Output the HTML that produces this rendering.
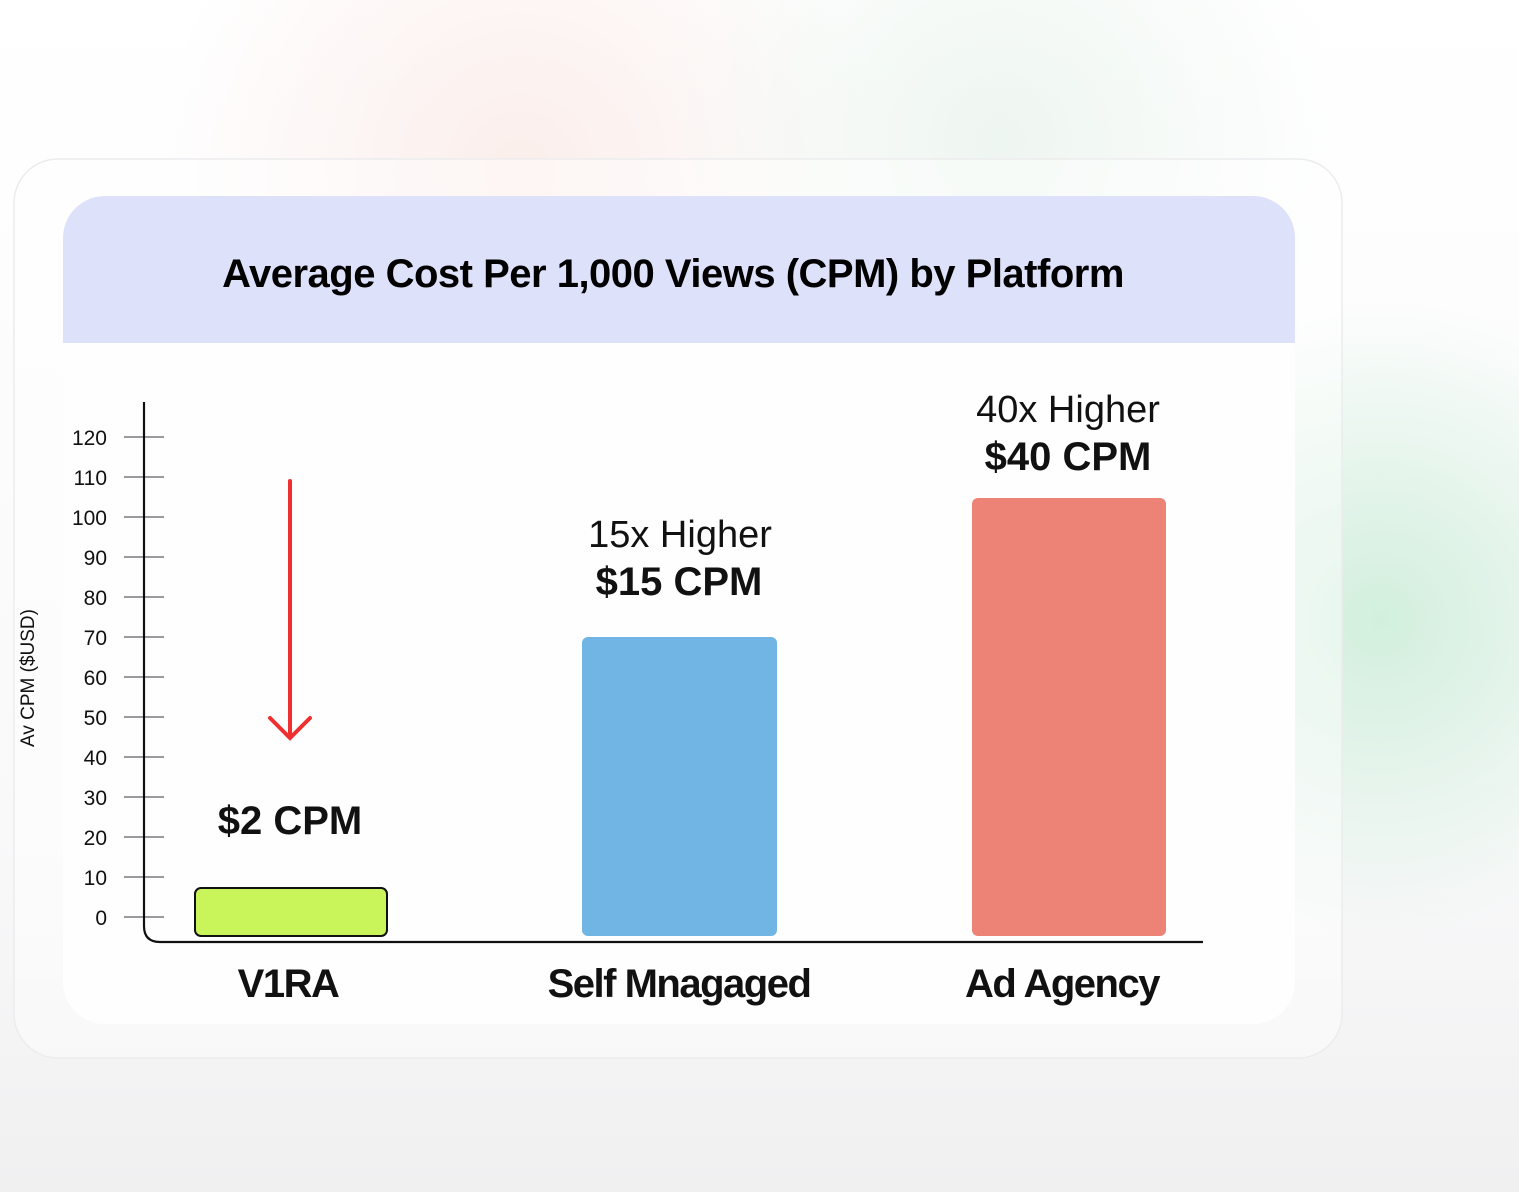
<!DOCTYPE html>
<html><head><meta charset="utf-8"><style>
html,body{margin:0;padding:0;width:1519px;height:1192px;overflow:hidden;background:#f7f7f8;}
svg{display:block}
text{font-family:"Liberation Sans",sans-serif;}
</style></head><body>
<svg width="1519" height="1192" viewBox="0 0 1519 1192" xmlns="http://www.w3.org/2000/svg">
<defs>
<radialGradient id="g1" cx="1380" cy="620" r="320" gradientUnits="userSpaceOnUse">
<stop offset="0" stop-color="#d2efdd"/><stop offset="1" stop-color="#d2efdd" stop-opacity="0"/></radialGradient>
<radialGradient id="g2" cx="520" cy="170" r="360" gradientUnits="userSpaceOnUse">
<stop offset="0" stop-color="#fbeeeb"/><stop offset="1" stop-color="#fbeeeb" stop-opacity="0"/></radialGradient>
<radialGradient id="g3" cx="1000" cy="140" r="340" gradientUnits="userSpaceOnUse">
<stop offset="0" stop-color="#eef6f1"/><stop offset="1" stop-color="#eef6f1" stop-opacity="0"/></radialGradient>
<linearGradient id="bg" x1="0" y1="0" x2="0" y2="1">
<stop offset="0" stop-color="#ffffff"/><stop offset="0.7" stop-color="#f9f9fa"/><stop offset="1" stop-color="#f0f0f1"/></linearGradient>
<clipPath id="inner"><rect x="63" y="196" width="1232" height="828" rx="42"/></clipPath>
</defs>
<rect width="1519" height="1192" fill="url(#bg)"/>
<rect width="1519" height="1192" fill="url(#g2)"/>
<rect width="1519" height="1192" fill="url(#g3)"/>
<rect width="1519" height="1192" fill="url(#g1)"/>
<rect x="14" y="159" width="1328" height="899" rx="44" fill="#ffffff" fill-opacity="0.45" stroke="#ececee" stroke-width="1.5"/>
<g clip-path="url(#inner)">
<rect x="63" y="196" width="1232" height="828" fill="#fefefe"/>
<rect x="63" y="196" width="1232" height="147" fill="#dde1fa"/>
</g>
<text x="673" y="287" text-anchor="middle" font-size="40" font-weight="bold" letter-spacing="-0.5">Average Cost Per 1,000 Views (CPM) by Platform</text>
<text transform="translate(34,678) rotate(-90)" text-anchor="middle" font-size="19" fill="#111">Av CPM ($USD)</text>
<g stroke="#9a9a9e" stroke-width="2">
<line x1="124" y1="437" x2="164" y2="437"/><line x1="124" y1="477" x2="164" y2="477"/>
<line x1="124" y1="517" x2="164" y2="517"/><line x1="124" y1="557" x2="164" y2="557"/>
<line x1="124" y1="597" x2="164" y2="597"/><line x1="124" y1="637" x2="164" y2="637"/>
<line x1="124" y1="677" x2="164" y2="677"/><line x1="124" y1="717" x2="164" y2="717"/>
<line x1="124" y1="757" x2="164" y2="757"/><line x1="124" y1="797" x2="164" y2="797"/>
<line x1="124" y1="837" x2="164" y2="837"/><line x1="124" y1="877" x2="164" y2="877"/>
<line x1="124" y1="917" x2="164" y2="917"/>
</g>
<g font-size="21" text-anchor="end" fill="#111">
<text x="107" y="445">120</text><text x="107" y="485">110</text><text x="107" y="525">100</text>
<text x="107" y="565">90</text><text x="107" y="605">80</text><text x="107" y="645">70</text>
<text x="107" y="685">60</text><text x="107" y="725">50</text><text x="107" y="765">40</text>
<text x="107" y="805">30</text><text x="107" y="845">20</text><text x="107" y="885">10</text>
<text x="107" y="925">0</text>
</g>
<path d="M144 402 V926 Q144 942 160 942 H1203" fill="none" stroke="#111" stroke-width="2.2"/>
<rect x="195" y="888" width="192" height="48" rx="6" fill="#c9f55a" stroke="#111" stroke-width="2"/>
<rect x="582" y="637" width="195" height="299" rx="6" fill="#70b5e3"/>
<rect x="972" y="498" width="194" height="438" rx="6" fill="#ed8276"/>
<g stroke="#f03030" stroke-width="4" fill="none" stroke-linecap="round">
<line x1="290" y1="481" x2="290" y2="737"/>
<polyline points="270,718 290,738 310,718"/>
</g>
<g text-anchor="middle" fill="#111">
<text x="290" y="834" font-size="40" font-weight="bold">$2 CPM</text>
<text x="680" y="547" font-size="38">15x Higher</text>
<text x="679" y="595" font-size="40" font-weight="bold">$15 CPM</text>
<text x="1068" y="422" font-size="38">40x Higher</text>
<text x="1068" y="470" font-size="40" font-weight="bold">$40 CPM</text>
<g font-size="40" font-weight="bold" letter-spacing="-1.5">
<text x="288" y="997">V1RA</text>
<text x="679" y="997">Self Mnagaged</text>
<text x="1062" y="997">Ad Agency</text>
</g>
</g>
</svg>
</body></html>
